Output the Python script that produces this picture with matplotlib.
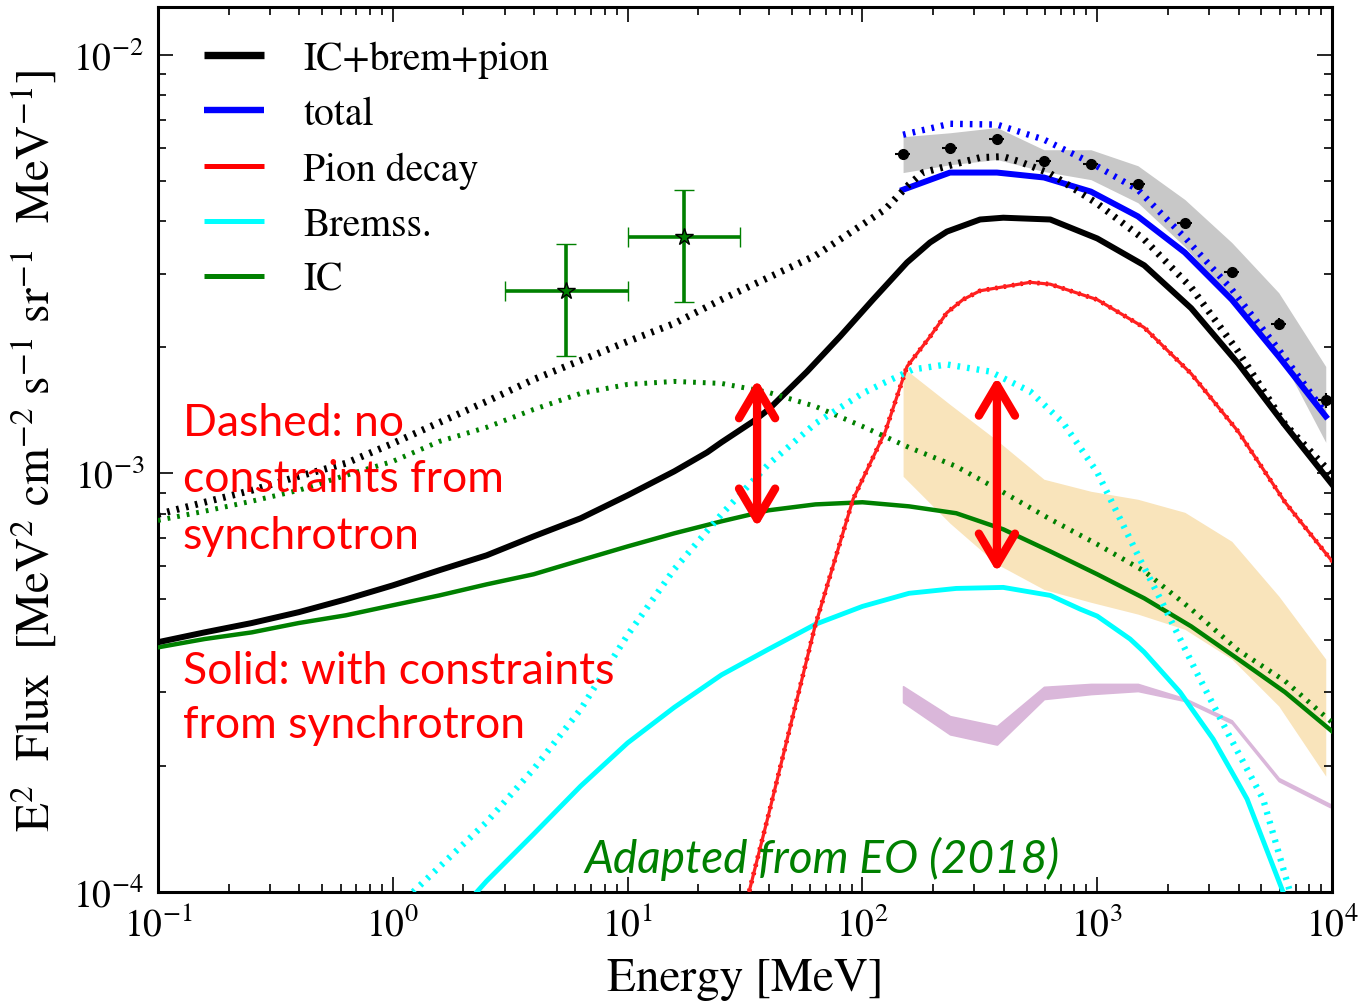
import matplotlib
matplotlib.use("Agg")
import matplotlib.pyplot as plt
import numpy as np

plt.rcParams['font.family'] = ['STIXGeneral', 'DejaVu Sans']
plt.rcParams['mathtext.fontset'] = 'stix'

# ---------------- data ----------------
E_grid = [0.1, 0.158, 0.251, 0.398, 0.631, 1.0, 1.58, 2.51, 3.98, 6.31, 10.0, 15.8, 25.1,
          39.8, 63.1, 100.0, 158.0, 251.0, 398.0, 631.0, 1000.0, 1585.0, 2512.0, 3981.0,
          6310.0, 10000.0]

E_tot = [0.1, 0.158, 0.251, 0.398, 0.631, 1.0, 1.58, 2.51, 3.98, 6.31, 10.0, 15.8, 21.8,
         25.1, 34.2, 39.8, 58.1, 80.3, 110.9, 154.9, 194.0, 229.0, 317.0, 398.0, 631.0,
         1000.0, 1585.0, 2512.0, 3981.0, 6310.0, 10000.0]
tot_solid = [3.95e-4, 4.17e-4, 4.39e-4, 4.66e-4, 5.00e-4, 5.40e-4, 5.87e-4, 6.37e-4, 7.07e-4,
             7.81e-4, 8.86e-4, 1.011e-3, 1.122e-3, 1.186e-3, 1.33e-3, 1.42e-3, 1.75e-3,
             2.123e-3, 2.60e-3, 3.19e-3, 3.56e-3, 3.78e-3, 4.04e-3, 4.08e-3, 4.04e-3, 3.64e-3,
             3.14e-3, 2.48e-3, 1.83e-3, 1.302e-3, 9.41e-4]

E_totd = [0.1, 0.158, 0.251, 0.398, 0.631, 1.0, 1.58, 2.51, 3.98, 6.31, 10.0, 15.8, 25.1,
          39.8, 63.1, 100.0, 124.8, 158.0, 181.0, 251.0, 317.0, 398.0, 469.0, 631.0, 1000.0,
          1585.0, 2512.0, 3981.0, 6310.0, 10000.0]
tot_dotted = [7.98e-4, 8.53e-4, 9.11e-4, 9.84e-4, 1.057e-3, 1.179e-3, 1.323e-3, 1.485e-3,
              1.676e-3, 1.861e-3, 2.065e-3, 2.280e-3, 2.601e-3, 2.936e-3, 3.313e-3, 3.928e-3,
              4.27e-3, 4.90e-3, 5.23e-3, 5.49e-3, 5.68e-3, 5.71e-3, 5.55e-3, 5.20e-3, 4.41e-3,
              3.62e-3, 2.78e-3, 1.955e-3, 1.309e-3, 9.95e-4]

ic_solid = [3.84e-4, 4.02e-4, 4.17e-4, 4.39e-4, 4.58e-4, 4.84e-4, 5.11e-4, 5.43e-4, 5.74e-4,
            6.20e-4, 6.69e-4, 7.19e-4, 7.68e-4, 8.16e-4, 8.43e-4, 8.53e-4, 8.34e-4, 8.03e-4,
            7.35e-4, 6.51e-4, 5.74e-4, 5.03e-4, 4.31e-4, 3.60e-4, 3.00e-4, 2.42e-4]
ic_dotted = [7.72e-4, 8.12e-4, 8.58e-4, 9.11e-4, 9.89e-4, 1.068e-3, 1.192e-3, 1.288e-3,
             1.421e-3, 1.552e-3, 1.631e-3, 1.658e-3, 1.640e-3, 1.561e-3, 1.445e-3, 1.295e-3,
             1.153e-3, 1.039e-3, 9.01e-4, 7.77e-4, 6.77e-4, 5.84e-4, 4.74e-4, 3.78e-4,
             3.19e-4, 2.54e-4]

brem_E = [2.28, 2.51, 3.98, 6.31, 10.0, 15.8, 25.1, 39.8, 63.1, 100.0, 158.0, 251.0, 398.0,
          631.0, 845.0, 1000.0, 1380.0, 1585.0, 2254.0, 2512.0, 3114.0, 3981.0, 4345.0,
          6185.0, 7310.0]
brem_solid = [1.0e-4, 1.062e-4, 1.375e-4, 1.79e-4, 2.27e-4, 2.76e-4, 3.30e-4, 3.80e-4,
              4.36e-4, 4.81e-4, 5.17e-4, 5.31e-4, 5.34e-4, 5.11e-4, 4.74e-4, 4.56e-4,
              4.02e-4, 3.74e-4, 3.00e-4, 2.75e-4, 2.32e-4, 1.82e-4, 1.667e-4, 1.0e-4, 7.9e-5]

bremd_E = [1.22, 1.58, 2.51, 3.98, 6.31, 10.0, 15.8, 25.1, 39.8, 63.1, 100.0, 124.8, 164.0,
           229.0, 349.0, 518.0, 714.0, 1000.0, 1521.0, 1905.0, 2661.0, 3679.0, 5085.0,
           6622.0, 7310.0]
brem_dotted = [1.0e-4, 1.148e-4, 1.469e-4, 1.966e-4, 2.73e-4, 4.11e-4, 5.90e-4, 7.98e-4,
               1.051e-3, 1.316e-3, 1.552e-3, 1.649e-3, 1.771e-3, 1.820e-3, 1.751e-3,
               1.569e-3, 1.323e-3, 1.006e-3, 6.23e-4, 4.87e-4, 3.33e-4, 2.34e-4, 1.667e-4,
               1.0e-4, 8.0e-5]

pion_E = [28.7, 32.9, 39.8, 62.8, 91.2, 124.8, 154.9, 194.0, 229.0, 268.0, 317.0, 518.0,
          631.0, 1000.0, 1585.0, 2512.0, 3981.0, 6310.0, 10000.0]
pion = [7.31e-5, 1.0e-4, 1.527e-4, 4.31e-4, 8.67e-4, 1.253e-3, 1.80e-3, 2.12e-3, 2.42e-3,
        2.60e-3, 2.73e-3, 2.86e-3, 2.83e-3, 2.60e-3, 2.23e-3, 1.73e-3, 1.259e-3, 8.53e-4,
        6.17e-4]

# data energies (LAT-like points) and model totals
E_data = [149, 236, 374, 593, 940, 1490, 2360, 3740, 5930, 9400]
total_solid = [4.76e-3, 5.23e-3, 5.23e-3, 5.09e-3, 4.71e-3, 4.11e-3, 3.37e-3, 2.60e-3,
               1.90e-3, 1.368e-3]
total_dotted = [6.44e-3, 6.84e-3, 6.81e-3, 6.27e-3, 5.52e-3, 4.76e-3, 3.66e-3, 2.75e-3,
                1.976e-3, 1.390e-3]
flux_data = [5.80e-3, 6.00e-3, 6.30e-3, 5.58e-3, 5.49e-3, 4.92e-3, 3.97e-3, 3.03e-3,
             2.28e-3, 1.493e-3]
flux_xerr = [11, 17, 27, 43, 68, 107, 170, 270, 430, 680]
flux_yerr = [1.2e-4, 1.2e-4, 1.2e-4, 1.1e-4, 1.1e-4, 1.0e-4, 8e-5, 7e-5, 7e-5, 6e-5]
gray_hi = [6.37e-3, 6.51e-3, 6.70e-3, 5.93e-3, 5.93e-3, 5.43e-3, 4.51e-3, 3.56e-3, 2.70e-3,
           1.80e-3]
gray_lo = [5.23e-3, 5.46e-3, 5.62e-3, 5.26e-3, 5.03e-3, 4.43e-3, 3.48e-3, 2.60e-3, 1.94e-3,
           1.186e-3]
tan_hi = [1.790e-3, 1.461e-3, 1.199e-3, 9.68e-4, 9.06e-4, 8.67e-4, 8.07e-4, 6.88e-4, 5.09e-4,
          3.60e-4]
tan_lo = [9.84e-4, 7.60e-4, 6.07e-4, 5.28e-4, 4.92e-4, 4.61e-4, 4.24e-4, 3.60e-4, 2.78e-4,
          1.891e-4]
E_purple = [149, 236, 374, 593, 940, 1490, 2360, 3740, 5930, 9800]
purple_hi = [3.10e-4, 2.63e-4, 2.49e-4, 3.09e-4, 3.14e-4, 3.14e-4, 2.90e-4, 2.57e-4, 1.871e-4,
             1.622e-4]
purple_lo = [2.84e-4, 2.38e-4, 2.25e-4, 2.89e-4, 2.97e-4, 3.02e-4, 2.86e-4, 2.53e-4, 1.840e-4,
             1.595e-4]

# synchrotron-derived points (green stars)
E_star = [5.47, 17.4]
E_star_lo = [3.01, 10.04]
E_star_hi = [10.04, 30.1]
F_star = [2.72e-3, 3.66e-3]
F_star_lo = [1.912e-3, 2.57e-3]
F_star_hi = [3.54e-3, 4.76e-3]

legend_labels = ['IC+brem+pion', 'total', 'Pion decay', 'Bremss.', 'IC']

# ---------------- figure ----------------
fig = plt.figure(figsize=(13.58, 10.03), dpi=100)
ax = fig.add_axes([0.1163, 0.1097, 0.9809 - 0.1163, 0.9920 - 0.1097])
ax.set_xscale('log')
ax.set_yscale('log')
ax.set_xlim(0.1, 1e4)
ax.set_ylim(1e-4, 1.3e-2)

# bands
ax.fill_between(E_data, gray_lo, gray_hi, color='#c8c8c8', lw=0, zorder=1)
ax.fill_between(E_data, tan_lo, tan_hi, color='#f9e4bb', lw=0, zorder=1)
ax.fill_between(E_purple, purple_lo, purple_hi, color='#dab7da', lw=1.2,
                edgecolor='#dab7da', zorder=1)

# solid curves
l_ic, = ax.plot(E_grid, ic_solid, color='green', lw=3.2, zorder=3)
l_br, = ax.plot(brem_E, brem_solid, color='cyan', lw=3.5, zorder=3)
ax.plot(pion_E, pion, color='red', lw=3.4, dashes=(0.5, 1.3), zorder=3)
l_pi, = ax.plot(pion_E, pion, color='#ff2020', lw=2.3, zorder=3.1)
l_tot, = ax.plot(E_tot, tot_solid, color='black', lw=4.3, zorder=3)
l_all, = ax.plot(E_data, total_solid, color='blue', lw=4.3, zorder=3)

# dotted curves (no synchrotron constraints)
ax.plot(E_grid, ic_dotted, color='green', lw=3.6, dashes=(0.55, 1.4), zorder=4)
ax.plot(bremd_E, brem_dotted, color='cyan', lw=4.6, dashes=(0.42, 1.1), zorder=4)
ax.plot(E_totd, tot_dotted, color='black', lw=5.0, dashes=(0.38, 1.0), zorder=4)
ax.plot(E_data, total_dotted, color='blue', lw=4.6, dashes=(0.42, 1.1), zorder=4)

# data
ax.errorbar(E_data, flux_data, xerr=flux_xerr, yerr=flux_yerr, fmt='o', color='black',
            ms=7, lw=1.5, capsize=0, zorder=5)
xe = [np.subtract(E_star, E_star_lo), np.subtract(E_star_hi, E_star)]
ye = [np.subtract(F_star, F_star_lo), np.subtract(F_star_hi, F_star)]
ax.errorbar(E_star, F_star, xerr=xe, yerr=ye, fmt='*', color='green', mfc='green',
            mec='black', mew=1.0, ms=13, lw=2.6, capsize=7, capthick=1.5, zorder=5)

# arrows
for xa, y0, y1 in [(35.6, 7.43e-4, 1.676e-3), (374.0, 5.80e-4, 1.70e-3)]:
    ax.annotate('', xy=(xa, y1), xytext=(xa, y0),
                arrowprops=dict(arrowstyle='<->,head_length=1.1,head_width=0.65',
                                color='red', lw=6, mutation_scale=20, shrinkA=0, shrinkB=0,
                                joinstyle='round', capstyle='round'), zorder=6)

# annotations
tfont = 'Lato'
ax.text(0.021, 0.554, 'Dashed: no\nconstraints from\nsynchrotron', transform=ax.transAxes,
        color='red', fontsize=32, family=tfont, va='top', ha='left', linespacing=1.47,
        zorder=7)
ax.text(0.021, 0.2735, 'Solid: with constraints\nfrom synchrotron', transform=ax.transAxes,
        color='red', fontsize=32, family=tfont, va='top', ha='left', linespacing=1.4,
        zorder=7)
ax.text(0.363, 0.039, 'Adapted from EO (2018)', transform=ax.transAxes, color='green',
        fontsize=33, family=tfont, style='italic', va='center', ha='left', zorder=7)

# legend
leg = ax.legend([l_tot, l_all, l_pi, l_br, l_ic], legend_labels, loc='upper left',
                bbox_to_anchor=(0.039, 0.962), frameon=False, fontsize=28.5,
                handlelength=1.52, handletextpad=1.0, labelspacing=0.45, borderpad=0,
                borderaxespad=0)
for h, w in zip(leg.get_lines(), [5.3, 4.6, 3.6, 3.6, 3.6]):
    h.set_solid_capstyle('butt')
    h.set_linewidth(w)
leg.get_lines()[2].set_color('red')

# axes styling
ax.set_xlabel('Energy [MeV]', fontsize=34, labelpad=10)
ax.set_ylabel(r'E$^2$  Flux  [MeV$^2$ cm$^{-2}$ s$^{-1}$ sr$^{-1}$  MeV$^{-1}$]',
              fontsize=34, labelpad=10)
ax.tick_params(which='both', direction='in', top=True, right=True, labelsize=27,
               width=1.2)
ax.tick_params(which='major', length=11, pad=10)
ax.tick_params(which='minor', length=5.5)
for s in ax.spines.values():
    s.set_linewidth(2.2)

fig.savefig('out.png', dpi=100)
